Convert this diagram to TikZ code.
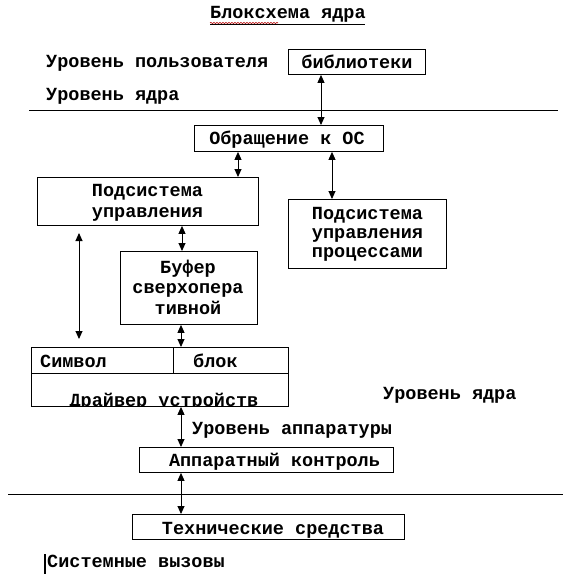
\documentclass[tikz,border=0pt]{standalone}
\usepackage{fontspec}
\setmainfont{Liberation Mono}
\usetikzlibrary{arrows.meta,decorations.pathmorphing}
\begin{document}
\begin{tikzpicture}[x=1pt,y=-1pt,
  every node/.style={font=\fontsize{18.5}{20}\selectfont\bfseries, inner sep=0pt},
  box/.style={draw, line width=0.9pt, minimum width=#1, anchor=north west, inner sep=0pt},
  txt/.style={anchor=base},
  lbl/.style={anchor=base west},
  biarrow/.style={line width=0.9pt, {Triangle[length=8pt,width=7pt]}-{Triangle[length=8pt,width=7pt]}},
  rule/.style={line width=1pt}]
\useasboundingbox (0,0) rectangle (571,576);
% title
\node[lbl] (title) at (210,18) {Блоксхема ядра};
\draw[line width=1.1pt] (210,24.8) -- (365,24.8);
\draw[red!70!black, line width=0.6pt, decorate, decoration={snake, amplitude=0.6pt, segment length=3pt}] (210,23) -- (278,23);
% side labels
\node[lbl] (user) at (46,67) {Уровень пользователя};
\node[lbl] (kern1) at (46,100) {Уровень ядра};
\node[lbl] (kern2) at (383,399) {Уровень ядра};
\node[lbl] (hwlev) at (192,434) {Уровень аппаратуры};
\node[lbl] (sys) at (47,567) {Системные вызовы};
\draw[line width=1.6pt] (45,554) -- (45,574);
% level lines
\coordinate (l1a) at (29,110); \coordinate (l1b) at (558,110);
\coordinate (l2a) at (8,494); \coordinate (l2b) at (563,494);
\draw[rule] (l1a) -- (l1b);
\draw[rule] (l2a) -- (l2b);
% boxes
\node[box=137pt, minimum height=25pt] (lib) at (288,49) {};
\node[txt] at (357,68) {библиотеки};
\node[box=189pt, minimum height=26pt] (os) at (194,125) {};
\node[txt] at (287,144) {Обращение к ОС};
\node[box=221pt, minimum height=48pt] (psu) at (37,177) {};
\node[txt] at (147.5,196) {Подсистема};
\node[txt] at (147.5,217) {управления};
\node[box=158pt, minimum height=69pt] (proc) at (288,199) {};
\node[txt] at (367.5,219) {Подсистема};
\node[txt] at (367.5,238) {управления};
\node[txt] at (367.5,257) {процессами};
\node[box=137pt, minimum height=73pt] (buf) at (120,251) {};
\node[txt] at (188,273) {Буфер};
\node[txt] at (188,293.5) {сверхопера};
\node[txt] at (188,314) {тивной};
\node[box=257pt, minimum height=59pt] (drv) at (31,347) {};
\draw[line width=0.9pt] (drv.west |- 0,373) -- (drv.east |- 0,373);
\draw[line width=0.9pt] (173,0 |- drv.north) -- (173,373);
\node[lbl] at (40,367) {Символ};
\node[lbl] at (193,367) {блок};
\begin{scope}
\clip (drv.north west) rectangle (drv.south east);
\node[txt] at (164,406) {Драйвер устройств};
\end{scope}
\node[box=254pt, minimum height=25pt] (hw) at (139,447) {};
\node[txt] at (274.5,466) {Аппаратный контроль};
\node[box=272pt, minimum height=25pt] (tech) at (132,514) {};
\node[txt] at (273,534) {Технические средства};
% connectors
\draw[biarrow] (lib.south -| 321,0) -- (os.north -| 321,0);
\draw[biarrow] (os.south -| 238,0) -- (psu.north -| 238,0);
\draw[biarrow] (os.south -| 332,0) -- (proc.north -| 332,0);
\draw[biarrow] (psu.south -| 182,0) -- (buf.north -| 182,0);
\coordinate (fa) at (79,233); \coordinate (fb) at (79,339);
\draw[biarrow] (fa) -- (fb);
\draw[biarrow] (buf.south -| 181,0) -- (drv.north -| 181,0);
\draw[biarrow] (drv.south -| 181,0) -- (hw.north -| 181,0);
\draw[biarrow] (hw.south -| 181,0) -- (tech.north -| 181,0);
\end{tikzpicture}
\end{document}
